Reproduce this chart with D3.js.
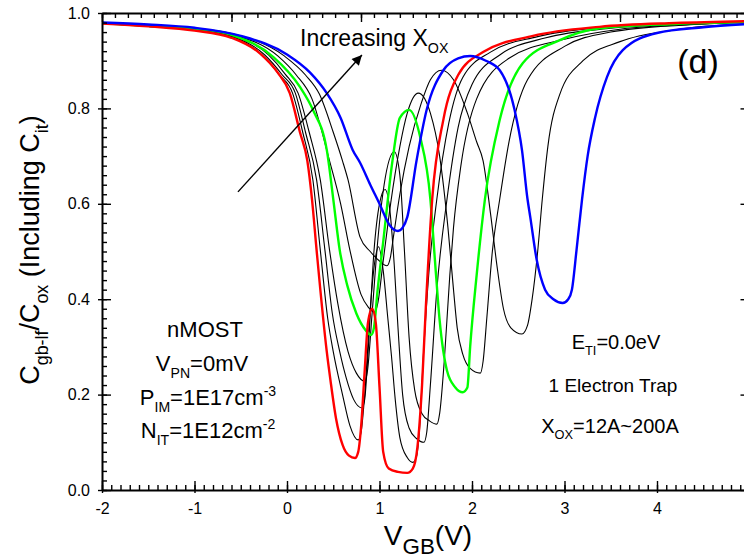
<!DOCTYPE html>
<html>
<head>
<meta charset="utf-8">
<script src="https://cdn.jsdelivr.net/npm/d3@7"></script>
<style>
  body { margin: 0; background: #fff; }
  svg { display: block; }
  text { font-family: "Liberation Sans", Arial, sans-serif; fill: #000; }
</style>
</head>
<body>
<div id="chart"></div>
<script>
// axis ticks
const xTicks = [-2, -1, 0, 1, 2, 3, 4, 5];
const yTicks = [0, 0.2, 0.4, 0.6, 0.8, 1.0];

// C-V curves, [V_GB, C/Cox] (X_OX increasing)
const xox12 = [[-2,0.978],[-1.5,0.972],[-1,0.963],[-0.6,0.948],[-0.29,0.915],[-0.1,0.875],[0.03,0.832],[0.14,0.75],[0.22,0.69],[0.27,0.61],[0.32,0.503],[0.43,0.29],[0.47,0.23],[0.53,0.15],[0.6,0.095],[0.67,0.072],[0.735,0.067],[0.77,0.08],[0.8,0.13],[0.84,0.25],[0.875,0.35],[0.92,0.38],[0.96,0.35],[1.0,0.216],[1.04,0.08],[1.1,0.045],[1.2,0.038],[1.3,0.036],[1.36,0.045],[1.41,0.09],[1.46,0.22],[1.5,0.38],[1.57,0.61],[1.69,0.776],[1.85,0.87],[2.12,0.918],[2.66,0.952],[3.38,0.971],[4.2,0.979],[5,0.983]];
const xoxB1 = [[-2,0.978],[-1.5,0.972],[-1,0.964],[-0.6,0.95],[-0.27,0.912],[-0.08,0.87],[0.06,0.832],[0.17,0.75],[0.28,0.65],[0.36,0.503],[0.44,0.36],[0.5,0.29],[0.6,0.2],[0.68,0.135],[0.77,0.105],[0.8,0.12],[0.84,0.2],[0.9,0.38],[0.95,0.48],[0.99,0.51],[1.04,0.46],[1.09,0.36],[1.13,0.28],[1.17,0.19],[1.22,0.11],[1.3,0.068],[1.36,0.058],[1.4,0.07],[1.43,0.12],[1.48,0.3],[1.54,0.47],[1.62,0.61],[1.75,0.77],[1.9,0.865],[2.2,0.918],[2.7,0.95],[3.4,0.97],[4.2,0.978],[5,0.982]];
const xoxB2 = [[-2,0.978],[-1.5,0.972],[-1,0.965],[-0.6,0.951],[-0.24,0.912],[-0.05,0.87],[0.09,0.832],[0.2,0.75],[0.32,0.65],[0.41,0.503],[0.49,0.37],[0.57,0.29],[0.64,0.235],[0.72,0.19],[0.81,0.172],[0.84,0.19],[0.88,0.3],[0.94,0.5],[1.0,0.6],[1.06,0.63],[1.11,0.59],[1.16,0.47],[1.2,0.34],[1.25,0.2],[1.32,0.13],[1.4,0.108],[1.48,0.1],[1.51,0.12],[1.55,0.22],[1.62,0.42],[1.73,0.61],[1.85,0.76],[2.0,0.85],[2.3,0.912],[2.8,0.948],[3.5,0.968],[4.3,0.977],[5,0.982]];
const xoxB3 = [[-2,0.979],[-1.5,0.973],[-1,0.966],[-0.6,0.953],[-0.2,0.912],[-0.02,0.872],[0.12,0.832],[0.24,0.75],[0.36,0.65],[0.46,0.503],[0.55,0.39],[0.66,0.29],[0.75,0.245],[0.84,0.228],[0.87,0.25],[0.92,0.37],[0.98,0.52],[1.05,0.64],[1.16,0.709],[1.22,0.66],[1.27,0.5],[1.32,0.32],[1.38,0.21],[1.46,0.16],[1.54,0.145],[1.62,0.138],[1.65,0.16],[1.7,0.27],[1.76,0.45],[1.8,0.55],[1.88,0.68],[2.05,0.82],[2.4,0.905],[3.0,0.945],[3.6,0.966],[4.4,0.976],[5,0.981]];
const xoxG = [[-2,0.979],[-1.5,0.973],[-1,0.967],[-0.6,0.954],[-0.15,0.908],[0.14,0.845],[0.28,0.797],[0.43,0.713],[0.5,0.61],[0.57,0.503],[0.65,0.43],[0.75,0.37],[0.85,0.335],[0.91,0.325],[0.94,0.34],[0.98,0.42],[1.04,0.52],[1.14,0.69],[1.22,0.78],[1.32,0.797],[1.44,0.74],[1.55,0.61],[1.6,0.48],[1.65,0.356],[1.73,0.25],[1.82,0.215],[1.9,0.205],[1.95,0.215],[1.98,0.3],[2.05,0.45],[2.14,0.61],[2.3,0.776],[2.55,0.895],[2.95,0.943],[3.38,0.968],[4.2,0.977],[5,0.981]];
const xoxB4 = [[-2,0.979],[-1.5,0.974],[-1,0.967],[-0.6,0.955],[-0.1,0.91],[0.1,0.87],[0.27,0.82],[0.46,0.69],[0.58,0.6],[0.68,0.503],[0.8,0.41],[0.88,0.383],[0.95,0.373],[0.98,0.39],[1.04,0.48],[1.12,0.6],[1.22,0.72],[1.3,0.79],[1.42,0.832],[1.55,0.79],[1.65,0.7],[1.74,0.55],[1.8,0.42],[1.84,0.34],[1.9,0.285],[1.98,0.255],[2.09,0.245],[2.12,0.27],[2.16,0.36],[2.22,0.5],[2.3,0.61],[2.4,0.73],[2.6,0.86],[3.0,0.93],[3.5,0.96],[4.3,0.975],[5,0.981]];
const xoxB5 = [[-2,0.98],[-1.5,0.975],[-1,0.968],[-0.6,0.957],[-0.03,0.91],[0.2,0.87],[0.35,0.83],[0.5,0.75],[0.6,0.69],[0.66,0.65],[0.79,0.53],[0.9,0.5],[1.0,0.48],[1.08,0.47],[1.12,0.49],[1.15,0.53],[1.22,0.62],[1.32,0.72],[1.45,0.81],[1.55,0.86],[1.67,0.88],[1.8,0.86],[1.95,0.79],[2.05,0.73],[2.12,0.69],[2.2,0.58],[2.27,0.47],[2.34,0.38],[2.42,0.34],[2.54,0.327],[2.6,0.345],[2.65,0.4],[2.71,0.5],[2.76,0.61],[2.82,0.72],[2.95,0.83],[3.2,0.9],[3.6,0.94],[4.2,0.965],[5,0.978]];
const xox200 = [[-2,0.98],[-1.5,0.976],[-1,0.969],[-0.5,0.952],[0,0.913],[0.25,0.875],[0.43,0.832],[0.58,0.78],[0.71,0.713],[0.79,0.686],[0.9,0.64],[1.0,0.6],[1.11,0.555],[1.2,0.543],[1.25,0.55],[1.3,0.572],[1.4,0.69],[1.51,0.797],[1.69,0.88],[1.85,0.905],[1.98,0.91],[2.15,0.9],[2.3,0.88],[2.46,0.797],[2.54,0.713],[2.6,0.61],[2.63,0.572],[2.7,0.482],[2.79,0.42],[2.88,0.4],[2.98,0.392],[3.04,0.4],[3.08,0.42],[3.13,0.503],[3.19,0.61],[3.25,0.7],[3.33,0.78],[3.46,0.866],[3.63,0.922],[4.0,0.958],[4.5,0.97],[5,0.977]];

const series = [
  { pts: xoxB1, color: '#000', w: 1.1 },
  { pts: xoxB2, color: '#000', w: 1.1 },
  { pts: xoxB3, color: '#000', w: 1.1 },
  { pts: xoxB4, color: '#000', w: 1.1 },
  { pts: xoxB5, color: '#000', w: 1.1 },
  { pts: xoxG, color: '#00ff00', w: 2.4 },
  { pts: xox12, color: '#ff0000', w: 2.4 },
  { pts: xox200, color: '#0000ff', w: 2.4 }
];

const W = 744, H = 558;
const x = d3.scaleLinear().domain([-2, 5]).range([102, 749.5]);
const y = d3.scaleLinear().domain([0, 1]).range([490, 13]);
const xTop = d3.scaleLinear().domain([0, 5]).range([102, 749.5]);

const svg = d3.select('#chart').append('svg')
  .attr('width', W)
  .attr('height', H);

svg.append('clipPath').attr('id', 'clip')
  .append('rect')
  .attr('x', x(-2)).attr('y', y(1))
  .attr('width', x(5) - x(-2)).attr('height', y(0) - y(1));

const line = d3.line()
  .x(d => x(d[0]))
  .y(d => y(d[1]))
  .curve(d3.curveMonotoneX);

const gc = svg.append('g').attr('clip-path', 'url(#clip)');
series.forEach(s => {
  gc.append('path')
    .attr('d', line(s.pts))
    .attr('fill', 'none')
    .attr('stroke', s.color)
    .attr('stroke-width', s.w)
    .attr('stroke-linejoin', 'round');
});

// axes
const fmtX = d => String(d);
const fmtY = d => d.toFixed(1);

function styleAxis(g, domainOn) {
  g.select('.domain').attr('stroke-width', 2).style('display', domainOn ? null : 'none');
  g.selectAll('.tick line').attr('stroke-width', 1.4);
  g.selectAll('.tick text').attr('font-size', 16).attr('font-family', '"Liberation Sans", Arial, sans-serif');
}

// bottom (the tick at 5 sits past the window edge, so it gets no label)
const gxm = svg.append('g').attr('transform', `translate(0,${y(0)})`)
  .call(d3.axisBottom(x).tickValues(d3.range(-2, 5.001, 0.1)).tickSize(-5).tickFormat(''));
styleAxis(gxm, false);
const gx = svg.append('g').attr('transform', `translate(0,${y(0)})`)
  .call(d3.axisBottom(x).tickValues(xTicks).tickSizeInner(-9).tickSizeOuter(0).tickPadding(13)
    .tickFormat(d => x(d) < W - 6 ? fmtX(d) : ''));
styleAxis(gx, true);
gx.selectAll('.tick').append('line').attr('y2', 3).attr('stroke', '#000').attr('stroke-width', 1.4);

// left
const gym = svg.append('g').attr('transform', `translate(${x(-2)},0)`)
  .call(d3.axisLeft(y).tickValues(d3.range(0, 1.0001, 0.02)).tickSize(-5).tickFormat(''));
styleAxis(gym, false);
const gy = svg.append('g').attr('transform', `translate(${x(-2)},0)`)
  .call(d3.axisLeft(y).tickValues(yTicks).tickSizeInner(-9).tickSizeOuter(0).tickPadding(12).tickFormat(fmtY));
styleAxis(gy, true);
gy.selectAll('.tick').append('line').attr('x2', -4).attr('stroke', '#000').attr('stroke-width', 1.4);

// top
const gtm = svg.append('g').attr('transform', `translate(0,${y(1)})`)
  .call(d3.axisTop(xTop).tickValues(d3.range(0, 5.001, 0.1)).tickSize(-5).tickFormat(''));
styleAxis(gtm, false);
const gt = svg.append('g').attr('transform', `translate(0,${y(1)})`)
  .call(d3.axisTop(xTop).tickValues(d3.range(0, 5.001, 1)).tickSizeInner(-9).tickSizeOuter(0).tickFormat(''));
styleAxis(gt, true);

// right
const grm = svg.append('g').attr('transform', `translate(${x(5)},0)`)
  .call(d3.axisRight(y).tickValues(d3.range(0, 1.0001, 0.02)).tickSize(-5).tickFormat(''));
styleAxis(grm, false);
const gr = svg.append('g').attr('transform', `translate(${x(5)},0)`)
  .call(d3.axisRight(y).tickValues(yTicks).tickSizeInner(-9).tickSizeOuter(0).tickFormat(''));
styleAxis(gr, true);

// text with sub/superscripts
function rich(g, px, py, parts, size, anchor, ratio) {
  const r = ratio || 0.64;
  const t = g.append('text')
    .attr('x', px).attr('y', py)
    .attr('font-size', size)
    .attr('text-anchor', anchor || 'middle')
    .style('white-space', 'pre');
  let shift = 0;
  parts.forEach(([s, k]) => {
    const fs = k === 'n' ? size : size * r;
    const target = k === 'sub' ? size * 0.32 : k === 'sup' ? -size * 0.4 : 0;
    t.append('tspan').attr('dy', target - shift).attr('font-size', fs).text(s);
    shift = target;
  });
  return t;
}

// axis titles
const gyl = svg.append('g').attr('transform', 'translate(39,250) rotate(-90)');
rich(gyl, 0, 0, [['C','n'],['gb-lf','sub'],['/C','n'],['ox','sub'],[' (Including C','n'],['it','sub'],[')','n']], 27, 'middle', 0.66);
rich(svg, 428, 545, [['V','n'],['GB','sub'],['(V)','n']], 28, 'middle', 0.8);

// annotations
rich(svg, 300, 46, [['Increasing X','n'],['OX','sub']], 23, 'start', 0.62);
svg.append('text').attr('x', 698).attr('y', 73).attr('font-size', 34).attr('text-anchor', 'middle').text('(d)');

rich(svg, 205, 337, [['nMOST','n']], 22);
rich(svg, 202, 371, [['V','n'],['PN','sub'],['=0mV','n']], 22);
rich(svg, 208, 405, [['P','n'],['IM','sub'],['=1E17cm','n'],['-3','sup']], 22);
rich(svg, 208, 438, [['N','n'],['IT','sub'],['=1E12cm','n'],['-2','sup']], 22);

rich(svg, 616, 349, [['E','n'],['TI','sub'],['=0.0eV','n']], 20);
rich(svg, 613, 392, [['1 Electron Trap','n']], 19);
rich(svg, 610, 433, [['X','n'],['OX','sub'],['=12A~200A','n']], 20);

// arrow
const arrowFrom = [-0.53, 0.625], arrowTo = [0.81, 0.912];
svg.append('defs').append('marker')
  .attr('id', 'ah').attr('viewBox', '0 0 10 10')
  .attr('refX', 10).attr('refY', 5)
  .attr('markerWidth', 12).attr('markerHeight', 10)
  .attr('markerUnits', 'userSpaceOnUse')
  .attr('orient', 'auto')
  .append('path').attr('d', 'M0,0 L10,5 L0,10 Z').attr('fill', '#000');
svg.append('line')
  .attr('x1', x(arrowFrom[0])).attr('y1', y(arrowFrom[1]))
  .attr('x2', x(arrowTo[0])).attr('y2', y(arrowTo[1]))
  .attr('stroke', '#000').attr('stroke-width', 1.4)
  .attr('marker-end', 'url(#ah)');
</script>
</body>
</html>
